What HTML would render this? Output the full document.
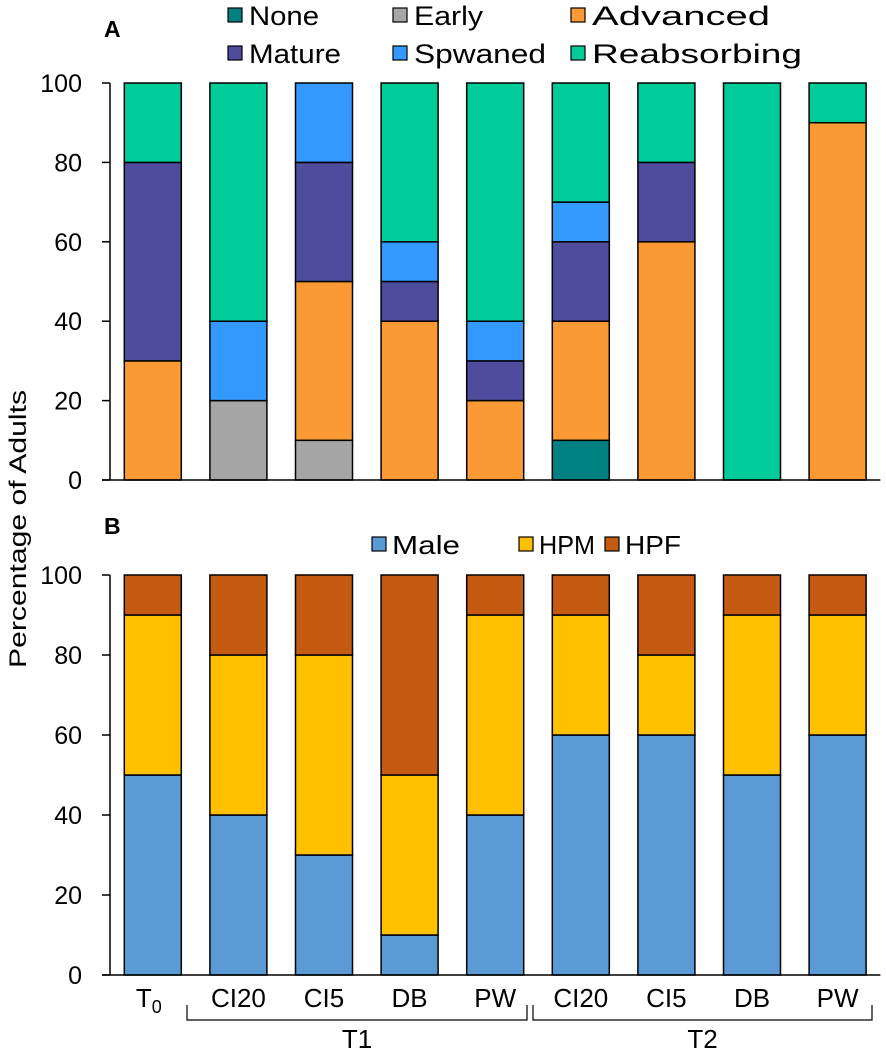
<!DOCTYPE html>
<html><head><meta charset="utf-8"><style>
body{margin:0;background:#fff}
svg{display:block;font-family:"Liberation Sans",sans-serif}
</style></head><body>
<svg id="c" width="886" height="1053"></svg>
<script>
const categories=["T0","CI20","CI5","DB","PW","CI20","CI5","DB","PW"];
const seriesA=["None","Early","Advanced","Mature","Spwaned","Reabsorbing"];
const colorsA=["#008080","#a6a6a6","#fb9a35","#4f4c9e","#3399ff","#00cc99"];
const noneV=[0,0,0,0,0,10,0,0,0];
const earlyV=[0,20,10,0,0,0,0,0,0];
const advancedV=[30,0,40,40,20,30,60,0,90];
const matureV=[50,0,30,10,10,20,20,0,0];
const spawnedV=[0,20,20,10,10,10,0,0,0];
const reabsorbV=[20,60,0,40,60,30,20,100,10];
const seriesB=["Male","HPM","HPF"];
const colorsB=["#5b9bd5","#ffc000","#c55a11"];
const maleV=[50,40,30,10,40,60,60,50,60];
const hpmV=[40,40,50,40,50,30,20,40,30];
const hpfV=[10,20,20,50,10,10,20,10,10];
const yTicks=[0,20,40,60,80,100];

const S=document.getElementById('c');const NS="http://www.w3.org/2000/svg";
function mk(t,a,p){const e=document.createElementNS(NS,t);for(const k in a)e.setAttribute(k,a[k]);(p||S).appendChild(e);return e;}
const x0=110,step=85.6,bw=57;
const xc=i=>x0+step*(i+0.5);
function panel(top,bot,vals,cols,name){
  const y=v=>bot-(bot-top)*v/100;
  const g=mk('g',{});
  
  
  categories.forEach((c,i)=>{let acc=0;
    vals.forEach((arr,s)=>{const v=arr[i];if(v>0){
      const r=mk('rect',{x:xc(i)-bw/2,y:y(acc+v),width:bw,height:y(acc)-y(acc+v),fill:cols[s],stroke:'#000','stroke-width':1.5},g);
      
      }
      acc+=v;});});
  mk('line',{x1:x0,y1:top,x2:x0,y2:bot,stroke:'#000','stroke-width':1.5},g);
  mk('line',{x1:x0-8,y1:bot,x2:x0+step*9,y2:bot,stroke:'#000','stroke-width':1.5},g);
  yTicks.forEach(t=>{mk('line',{x1:x0-8,y1:y(t),x2:x0,y2:y(t),stroke:'#000','stroke-width':1.5},g);
    const tx=mk('text',{x:82,y:y(t)+9,'text-anchor':'end','font-size':25,fill:'#000'},g);tx.textContent=t;
    });
}
panel(83,480,[noneV,earlyV,advancedV,matureV,spawnedV,reabsorbV],colorsA,'panel-a');
panel(575,975,[maleV,hpmV,hpfV],colorsB,'panel-b');
function txt(x,y,s,size,extra){const t=mk('text',Object.assign({x:x,y:y,'font-size':size,fill:'#000'},extra||{}));t.textContent=s;return t;}
let t=txt(104,37,'A',23,{'font-weight':'bold'});
t=txt(104,534,'B',23,{'font-weight':'bold'});
t=txt(0,0,'Percentage of Adults',24,{'text-anchor':'middle',textLength:278,lengthAdjust:'spacingAndGlyphs',transform:'translate(26,529) rotate(-90)'});
// legend A
const legA=[[228,16,70],[393,16,69],[571,16,178],[228,54,92],[393,54,132],[571,54,210]];
seriesA.forEach((s,i)=>{const [lx,ly,w]=legA[i];
  const r=mk('rect',{x:lx,y:ly-8,width:14,height:14,fill:colorsA[i],stroke:'#000','stroke-width':1.2});
  
  const tt=txt(lx+21,ly+9,s,27,{textLength:w,lengthAdjust:'spacingAndGlyphs'});});
const legB=[[372,68],[519,56],[605,56]];
seriesB.forEach((s,i)=>{const [lx,w]=legB[i],ly=545;
  const r=mk('rect',{x:lx,y:ly-8,width:14,height:14,fill:colorsB[i],stroke:'#000','stroke-width':1.2});
  
  const tt=txt(lx+20,ly+9,s,26,{textLength:w,lengthAdjust:'spacingAndGlyphs'});});
// x labels
categories.forEach((c,i)=>{let tt;
  if(c==='T0'){tt=mk('text',{x:xc(i)-4,y:1007,'text-anchor':'middle','font-size':26,fill:'#000'});tt.innerHTML='T<tspan font-size="18" dy="6">0</tspan>';}
  else tt=txt(xc(i),1007,c,26,{'text-anchor':'middle'});
  });
// brackets
[[187,527,'T1'],[533,872,'T2']].forEach(b=>{
  const p=mk('path',{d:`M${b[0]},1005 V1020 H${b[1]} V1005`,fill:'none',stroke:'#000','stroke-width':1.2});
  
  const tt=txt((b[0]+b[1])/2,1048,b[2],26,{'text-anchor':'middle'});});
</script>
</body></html>
